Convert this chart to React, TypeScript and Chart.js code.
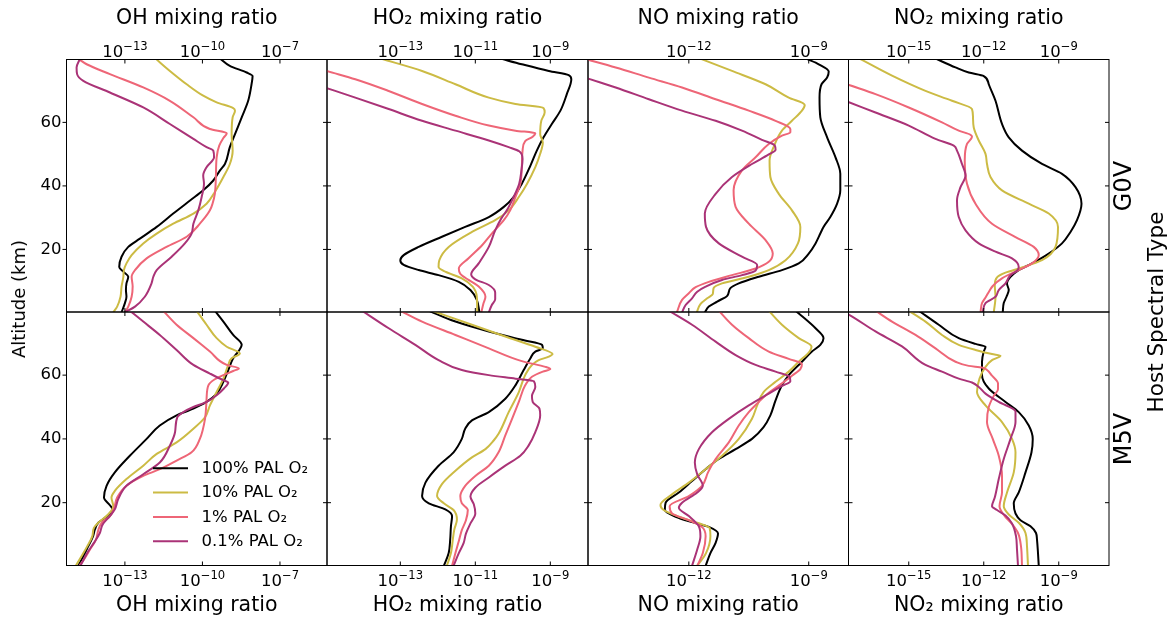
import React, { useEffect, useRef } from 'react';
import { Chart, registerables } from 'chart.js';

Chart.register(...registerables);
Chart.defaults.font.family = "'DejaVu Sans', sans-serif";
Chart.defaults.color = '#000';

// ---------- data: each profile is [altitude (km), log10(mixing ratio)] ----------
type Profile = [number, number][];

const SERIES_LABELS = ['100% PAL O₂', '10% PAL O₂', '1% PAL O₂', '0.1% PAL O₂'];
const SERIES_COLORS = ['#000000', '#CCBB44', '#EE6677', '#AA3377'];
const SPECIES_TITLES = ['OH mixing ratio', 'HO₂ mixing ratio', 'NO mixing ratio', 'NO₂ mixing ratio'];
const HOST_TYPES = ['G0V', 'M5V'];

const X_TICK_EXPONENTS = [[-13, -10, -7], [-13, -11, -9], [-12, -9], [-15, -12, -9]];
// tick labels as "base^exponent"
const X_TICK_LABELS = [
  ['10^−13', '10^−10', '10^−7'],
  ['10^−13', '10^−11', '10^−9'],
  ['10^−12', '10^−9'],
  ['10^−15', '10^−12', '10^−9'],
];
const X_LIMITS_LOG = [[-15.26, -5.18], [-14.955, -7.995], [-14.52, -8.005], [-17.41, -6.99]];
const ALT_TICKS = [20, 40, 60];
const ALT_LIMITS = [0.3, 79.8];

// G0V host
const OH_G0V_100: Profile = [[80,-9.3],[77.8,-8.94],[75.7,-8.29],[74.6,-8.06],[72.0,-8.10],[66.8,-8.23],[61.6,-8.48],[56.3,-8.74],[52.2,-8.94],[46.9,-9.13],[44.9,-9.32],[41.7,-9.58],[38.6,-9.97],[35.4,-10.48],[31.3,-11.13],[27.1,-11.77],[23.4,-12.42],[20.8,-12.87],[17.7,-13.13],[14.5,-13.22],[13.0,-13.06],[11.4,-12.87],[9.3,-12.94],[7.2,-12.96],[5.1,-12.94],[3.1,-13.0],[0.2,-13.13]];
const OH_G0V_10: Profile = [[80,-11.8],[76.2,-11.26],[72.0,-10.61],[68.4,-9.97],[66.3,-9.45],[64.5,-8.81],[63.7,-8.74],[61.6,-8.83],[56.3,-8.87],[51.1,-8.83],[46.9,-8.94],[42.8,-9.19],[38.1,-9.52],[34.4,-9.84],[31.3,-10.35],[28.1,-11.13],[25.0,-11.77],[21.9,-12.29],[18.2,-12.74],[15.6,-12.94],[13.5,-13.04],[11.4,-13.06],[8.3,-13.13],[5.1,-13.17],[2.0,-13.30],[0.2,-13.45]];
const OH_G0V_1: Profile = [[80,-14.8],[78.3,-14.48],[75.2,-13.58],[71.0,-12.29],[66.8,-11.26],[61.6,-10.35],[57.9,-9.71],[56.6,-9.06],[55.1,-9.19],[52.7,-9.35],[49.0,-9.45],[42.8,-9.48],[37.5,-9.52],[34.4,-9.61],[32.3,-9.71],[28.1,-10.10],[24.0,-10.61],[20.8,-11.39],[17.2,-12.16],[13.5,-12.61],[11.4,-12.74],[8.3,-12.70],[5.1,-12.74],[2.0,-12.87],[0.2,-13.0]];
const OH_G0V_01: Profile = [[80,-14.74],[77.3,-14.87],[75.2,-14.85],[73.1,-14.61],[69.4,-13.58],[64.7,-12.29],[59.5,-11.26],[54.8,-10.35],[52.2,-9.84],[51.1,-9.58],[49.0,-9.55],[45.9,-9.84],[43.3,-9.97],[40.7,-9.94],[36.5,-10.03],[32.3,-10.16],[28.1,-10.35],[25.0,-10.42],[21.9,-10.68],[17.7,-11.19],[13.5,-11.77],[11.4,-11.90],[9.3,-11.97],[5.1,-12.23],[2.0,-12.61],[0.2,-13.0]];

const HO2_G0V_100: Profile = [[80,-10.3],[78.3,-9.76],[76.2,-9.04],[74.9,-8.51],[73.6,-8.44],[68.9,-8.56],[63.7,-8.73],[59.5,-8.96],[55.3,-9.18],[51.1,-9.36],[46.4,-9.53],[40.7,-9.76],[36.5,-9.98],[33.4,-10.24],[30.2,-10.64],[27.1,-11.27],[24.0,-11.89],[20.8,-12.51],[18.2,-12.91],[16.6,-13.0],[15.1,-12.91],[13.5,-12.51],[11.9,-11.98],[9.8,-11.44],[7.2,-11.13],[4.1,-10.96],[0.2,-10.89]];
const HO2_G0V_10: Profile = [[80,-13.5],[76.2,-12.42],[72.0,-11.53],[67.8,-10.64],[65.8,-9.93],[64.5,-9.18],[63.2,-9.15],[60.5,-9.24],[56.3,-9.27],[53.7,-9.20],[50.1,-9.27],[45.9,-9.40],[40.7,-9.62],[36.5,-9.84],[32.3,-10.11],[29.2,-10.47],[25.5,-11.09],[20.8,-11.71],[16.6,-11.96],[14.5,-11.98],[13.0,-11.80],[10.9,-11.36],[8.3,-11.07],[5.1,-10.96],[0.2,-10.95]];
const HO2_G0V_1: Profile = [[80,-16.0],[76.2,-14.96],[73.6,-14.2],[69.9,-13.31],[65.8,-12.42],[62.1,-11.53],[59.0,-10.64],[57.4,-9.93],[56.6,-9.40],[55.5,-9.47],[54.1,-9.67],[51.1,-9.74],[45.9,-9.76],[40.7,-9.80],[36.5,-9.93],[32.3,-10.07],[29.2,-10.24],[25.0,-10.56],[21.3,-10.82],[17.2,-11.18],[14.0,-11.44],[12.3,-11.40],[10.4,-11.18],[8.3,-10.91],[5.1,-10.73],[3.1,-10.78],[0.2,-10.84]];
const HO2_G0V_01: Profile = [[80,-17.3],[70.8,-14.96],[67.8,-14.2],[64.2,-13.31],[60.5,-12.42],[57.4,-11.53],[54.3,-10.64],[52.2,-10.11],[50.9,-9.83],[48.5,-9.74],[44.9,-9.77],[40.7,-9.83],[36.5,-9.98],[32.3,-10.16],[29.7,-10.31],[26.0,-10.47],[20.8,-10.64],[15.6,-10.91],[12.2,-11.11],[10.6,-11.0],[8.8,-10.64],[6.4,-10.47],[4.3,-10.47],[2.5,-10.56],[0.2,-10.64]];

const NO_G0V_100: Profile = [[80,-9.05],[78.3,-8.75],[76.0,-8.5],[74.1,-8.54],[72.0,-8.68],[67.8,-8.73],[61.6,-8.71],[55.3,-8.54],[49.0,-8.33],[43.8,-8.21],[38.6,-8.21],[34.4,-8.29],[30.2,-8.46],[27.1,-8.63],[25.0,-8.71],[21.9,-8.83],[18.7,-9.0],[15.6,-9.25],[13.5,-9.67],[11.4,-10.25],[9.3,-10.75],[7.8,-10.96],[5.4,-11.04],[3.6,-11.29],[2.0,-11.5],[0.2,-11.6]];
const NO_G0V_10: Profile = [[80,-11.7],[76.2,-10.92],[72.0,-10.08],[67.8,-9.5],[65.5,-9.1],[63.7,-9.17],[60.5,-9.42],[57.4,-9.67],[52.2,-9.88],[48.0,-9.98],[42.8,-9.96],[37.5,-9.75],[32.3,-9.42],[27.1,-9.21],[21.9,-9.27],[16.6,-9.58],[13.5,-10.0],[11.4,-10.5],[9.3,-11.17],[7.8,-11.38],[6.0,-11.4],[4.6,-11.54],[2.8,-11.71],[0.2,-11.8]];
const NO_G0V_1: Profile = [[80,-14.6],[77.3,-13.83],[74.1,-13.0],[71.0,-12.17],[67.3,-11.33],[63.7,-10.5],[60.5,-9.83],[57.9,-9.46],[56.9,-9.46],[55.8,-9.67],[53.2,-10.0],[49.0,-10.33],[44.9,-10.67],[38.6,-10.88],[33.4,-10.83],[28.1,-10.5],[22.9,-10.08],[18.7,-9.9],[16.1,-10.0],[14.0,-10.33],[11.9,-10.92],[9.8,-11.5],[8.1,-11.83],[6.2,-12.0],[4.1,-12.17],[0.2,-12.3]];
const NO_G0V_01: Profile = [[80,-16.0],[73.9,-14.54],[71.0,-13.83],[67.3,-13.0],[63.7,-12.17],[60.5,-11.33],[57.4,-10.67],[54.5,-10.17],[52.7,-9.85],[51.4,-9.83],[49.9,-10.0],[46.9,-10.42],[42.8,-10.92],[37.5,-11.33],[31.3,-11.6],[27.1,-11.57],[21.9,-11.25],[17.7,-10.67],[15.1,-10.29],[13.3,-10.33],[11.9,-10.67],[10.4,-11.17],[8.3,-11.58],[6.7,-11.79],[4.6,-11.92],[2.5,-12.08],[0.2,-12.17]];

const NO2_G0V_100: Profile = [[80,-13.9],[77.3,-13.13],[75.7,-12.6],[74.6,-12.0],[72.0,-11.8],[66.8,-11.53],[59.5,-11.27],[55.3,-11.0],[51.1,-10.47],[46.9,-9.67],[43.8,-8.87],[39.6,-8.33],[34.4,-8.09],[29.2,-8.27],[25.5,-8.53],[21.9,-8.87],[18.7,-9.4],[15.6,-10.07],[13.5,-10.6],[11.4,-10.93],[9.3,-11.07],[7.2,-11.0],[5.1,-11.09],[3.1,-11.2],[0.2,-11.24]];
const NO2_G0V_10: Profile = [[80,-16.95],[74.7,-15.67],[69.9,-14.33],[66.8,-13.27],[64.2,-12.47],[61.6,-12.43],[58.4,-12.4],[54.3,-12.2],[50.1,-11.93],[46.9,-11.87],[42.8,-11.73],[38.6,-11.27],[34.4,-10.2],[31.3,-9.4],[27.1,-9.03],[20.8,-9.13],[16.6,-9.67],[14.3,-10.47],[12.7,-11.13],[11.2,-11.47],[8.8,-11.56],[5.1,-11.53],[0.2,-11.6]];
const NO2_G0V_1: Profile = [[80,-20.3],[72.0,-17.47],[68.9,-16.33],[64.7,-15.0],[60.0,-13.67],[57.4,-13.0],[56.1,-12.53],[55.5,-12.47],[53.2,-12.67],[48.0,-12.76],[40.7,-12.67],[34.4,-12.33],[28.1,-11.67],[23.9,-10.73],[20.8,-10.0],[18.2,-9.8],[15.6,-10.07],[13.5,-10.6],[10.9,-11.27],[8.5,-11.64],[7.0,-11.77],[5.1,-11.91],[3.1,-12.07],[0.2,-12.13]];
const NO2_G0V_01: Profile = [[80,-21.8],[66.6,-17.47],[63.1,-16.33],[59.0,-15.0],[54.8,-13.93],[52.7,-13.2],[51.1,-13.07],[46.9,-12.87],[43.3,-12.73],[39.6,-12.93],[35.5,-13.07],[30.2,-13.0],[26.0,-12.73],[21.9,-12.2],[19.3,-11.53],[17.2,-10.87],[14.5,-10.6],[13.3,-10.67],[11.9,-10.93],[9.3,-11.13],[7.2,-11.4],[5.1,-11.53],[3.1,-11.93],[0.2,-12.04]];

// M5V host
const OH_M5V_100: Profile = [[80.2,-9.52],[76.8,-9.19],[72.6,-8.81],[69.5,-8.48],[67.9,-8.57],[65.3,-8.81],[61.6,-9.0],[57.9,-9.19],[54.2,-9.45],[51.6,-9.84],[49.5,-10.35],[47.4,-11.0],[44.2,-11.65],[40.0,-12.16],[34.7,-12.81],[29.5,-13.39],[25.3,-13.71],[21.6,-13.81],[19.2,-13.58],[17.9,-13.48],[15.6,-13.71],[13.7,-14.03],[11.6,-14.16],[9.5,-14.23],[6.3,-14.42],[3.2,-14.61],[0.2,-14.81]];
const OH_M5V_10: Profile = [[80.2,-10.23],[75.8,-9.84],[71.6,-9.45],[68.9,-9.06],[66.8,-8.55],[65.3,-8.87],[63.2,-9.0],[58.9,-9.19],[54.7,-9.45],[50.5,-9.71],[46.8,-9.9],[43.2,-10.35],[38.9,-11.0],[35.3,-11.77],[31.6,-12.29],[27.4,-12.94],[23.7,-13.39],[21.6,-13.52],[18.9,-13.45],[16.3,-13.65],[13.7,-14.03],[12.1,-14.2],[9.5,-14.26],[6.3,-14.46],[3.2,-14.68],[0.2,-14.9]];
const OH_M5V_1: Profile = [[80.2,-11.52],[75.8,-11.0],[71.6,-10.35],[67.4,-9.71],[63.2,-9.06],[62.1,-8.59],[61.3,-8.81],[60.0,-9.19],[58.7,-9.52],[56.8,-9.77],[52.6,-9.84],[46.3,-9.9],[40.0,-10.1],[35.8,-10.42],[33.2,-11.0],[30.5,-11.65],[28.4,-12.29],[25.3,-12.94],[21.6,-13.3],[17.9,-13.43],[15.8,-13.58],[13.7,-13.9],[11.4,-14.03],[8.4,-14.12],[5.3,-14.35],[2.1,-14.59],[0.2,-14.77]];
const OH_M5V_01: Profile = [[80.2,-12.81],[76.8,-12.29],[72.6,-11.65],[67.9,-11.0],[63.2,-10.35],[60.5,-9.71],[58.4,-9.19],[57.7,-9.0],[55.8,-9.17],[53.7,-9.45],[51.6,-9.84],[50.0,-10.35],[48.4,-10.74],[46.8,-10.97],[42.1,-11.06],[37.9,-11.26],[32.6,-11.65],[28.9,-12.29],[25.3,-12.94],[21.1,-13.26],[17.9,-13.39],[15.8,-13.58],[13.2,-13.86],[10.5,-13.97],[7.4,-14.2],[4.2,-14.46],[0.2,-14.72]];

const HO2_M5V_100: Profile = [[80.2,-12.24],[76.8,-11.53],[73.7,-10.64],[71.1,-9.76],[69.5,-9.22],[68.4,-9.2],[67.4,-9.4],[65.3,-9.53],[61.6,-9.71],[56.8,-9.93],[52.6,-10.2],[48.4,-10.64],[45.8,-11.09],[43.2,-11.27],[40.0,-11.36],[35.8,-11.58],[31.6,-11.98],[26.3,-12.33],[22.1,-12.42],[19.8,-12.24],[17.9,-11.8],[15.8,-11.62],[12.6,-11.65],[8.4,-11.67],[4.2,-11.71],[0.2,-11.84]];
const HO2_M5V_10: Profile = [[80.2,-12.16],[75.8,-11.09],[72.1,-10.2],[68.9,-9.4],[66.6,-8.94],[65.8,-9.04],[64.7,-9.31],[63.2,-9.49],[60.0,-9.67],[54.7,-9.84],[48.4,-10.11],[41.6,-10.38],[39.5,-10.51],[36.8,-10.73],[34.2,-11.09],[30.0,-11.53],[25.8,-11.89],[22.1,-12.02],[19.8,-11.84],[17.7,-11.58],[14.7,-11.49],[11.6,-11.56],[8.4,-11.6],[4.2,-11.65],[0.2,-11.76]];
const HO2_M5V_1: Profile = [[80.2,-13.0],[76.8,-12.42],[72.6,-11.53],[68.4,-10.64],[64.4,-9.76],[62.6,-9.13],[61.9,-9.0],[61.1,-9.2],[59.5,-9.49],[56.8,-9.67],[51.6,-9.84],[46.3,-10.02],[41.1,-10.2],[35.8,-10.38],[31.6,-10.64],[28.4,-11.0],[25.3,-11.27],[22.1,-11.4],[19.8,-11.36],[17.7,-11.2],[14.5,-11.25],[11.4,-11.36],[8.4,-11.43],[4.2,-11.53],[0.2,-11.62]];
const HO2_M5V_01: Profile = [[80.2,-14.02],[74.7,-13.31],[69.5,-12.6],[64.7,-11.98],[61.6,-11.36],[60.0,-10.64],[58.9,-9.93],[58.1,-9.44],[56.3,-9.4],[53.5,-9.49],[51.6,-9.47],[49.5,-9.29],[47.4,-9.27],[42.1,-9.4],[37.9,-9.58],[34.7,-9.8],[31.6,-10.2],[27.9,-10.64],[24.7,-11.0],[21.9,-11.13],[19.5,-11.04],[16.6,-11.0],[13.5,-11.13],[10.3,-11.25],[7.4,-11.31],[4.2,-11.44],[0.2,-11.58]];

const NO_M5V_100: Profile = [[80.2,-9.33],[74.7,-8.83],[71.6,-8.63],[69.5,-8.71],[67.4,-8.92],[64.2,-9.17],[60.0,-9.5],[56.8,-9.67],[52.1,-9.83],[47.4,-9.96],[43.7,-10.13],[40.0,-10.42],[36.8,-10.83],[33.7,-11.25],[30.5,-11.58],[26.8,-11.92],[23.2,-12.25],[20.0,-12.58],[17.7,-12.6],[15.6,-12.33],[13.9,-11.92],[12.4,-11.5],[10.3,-11.27],[7.4,-11.33],[4.2,-11.46],[0.2,-11.58]];
const NO_M5V_10: Profile = [[80.2,-10.0],[75.8,-9.67],[71.6,-9.25],[68.9,-8.93],[67.4,-8.98],[64.2,-9.25],[61.1,-9.5],[57.9,-9.83],[54.7,-10.13],[50.5,-10.29],[46.3,-10.42],[40.0,-10.75],[34.7,-11.17],[30.5,-11.58],[26.3,-12.0],[22.6,-12.42],[19.3,-12.71],[17.7,-12.63],[15.6,-12.25],[13.7,-11.79],[12.1,-11.48],[9.5,-11.46],[4.2,-11.57],[0.2,-11.79]];
const NO_M5V_1: Profile = [[80.2,-11.25],[75.8,-10.92],[71.6,-10.5],[67.4,-10.0],[65.1,-9.5],[63.5,-9.17],[61.9,-9.21],[59.8,-9.42],[57.4,-9.67],[54.5,-10.0],[51.6,-10.25],[48.4,-10.5],[44.2,-10.75],[38.9,-11.0],[33.7,-11.33],[29.5,-11.52],[25.3,-11.67],[22.1,-12.0],[18.9,-12.48],[16.6,-12.42],[14.5,-12.0],[12.4,-11.67],[9.5,-11.58],[4.2,-11.65],[0.2,-11.79]];
const NO_M5V_01: Profile = [[80.2,-12.5],[75.8,-11.92],[70.5,-11.33],[66.3,-10.83],[63.2,-10.33],[61.1,-9.83],[59.5,-9.48],[58.1,-9.46],[56.6,-9.67],[54.2,-10.0],[50.5,-10.5],[46.3,-11.0],[42.1,-11.42],[36.8,-11.75],[32.6,-11.85],[28.9,-11.79],[25.3,-11.65],[23.2,-11.79],[20.0,-12.17],[18.4,-12.25],[15.8,-12.0],[12.6,-11.75],[9.5,-11.71],[5.3,-11.79],[0.2,-11.92]];

const NO2_M5V_100: Profile = [[80.2,-14.6],[75.8,-13.8],[71.6,-13.0],[69.8,-12.33],[68.9,-11.93],[67.4,-12.0],[64.2,-12.07],[60.0,-12.07],[55.8,-11.8],[51.6,-11.13],[48.4,-10.6],[44.2,-10.2],[40.0,-10.04],[35.8,-10.09],[29.5,-10.33],[23.2,-10.6],[19.8,-10.8],[16.6,-10.73],[14.5,-10.53],[12.6,-10.13],[10.5,-9.91],[8.4,-9.87],[4.2,-9.83],[0.2,-9.8]];
const NO2_M5V_10: Profile = [[80.2,-15.0],[76.8,-14.33],[72.6,-13.67],[69.5,-13.0],[67.9,-12.33],[66.6,-11.67],[66.1,-11.33],[64.7,-11.67],[62.6,-11.93],[58.9,-12.17],[54.7,-12.27],[50.5,-11.93],[45.3,-11.27],[40.0,-10.87],[35.8,-10.73],[29.5,-10.8],[23.2,-11.07],[18.9,-11.2],[16.3,-11.0],[13.7,-10.6],[10.5,-10.33],[6.3,-10.27],[0.2,-10.23]];
const NO2_M5V_1: Profile = [[80.2,-16.33],[76.8,-15.67],[72.6,-14.73],[68.4,-13.93],[64.2,-13.13],[62.9,-12.6],[62.4,-12.07],[61.6,-11.87],[60.0,-11.69],[57.4,-11.43],[55.6,-11.43],[53.5,-11.6],[50.0,-11.8],[45.3,-11.87],[40.0,-11.64],[34.7,-11.4],[28.4,-11.27],[23.2,-11.27],[18.9,-11.37],[15.8,-11.16],[13.5,-10.89],[10.5,-10.63],[6.3,-10.51],[0.2,-10.47]];
const NO2_M5V_01: Profile = [[80.2,-17.7],[79.0,-17.4],[73.7,-16.33],[69.0,-15.27],[63.2,-14.33],[61.1,-13.67],[58.9,-13.0],[57.7,-12.47],[56.3,-12.2],[54.2,-11.93],[51.6,-11.4],[48.6,-10.73],[45.3,-10.73],[40.0,-10.93],[33.7,-11.2],[27.4,-11.4],[21.6,-11.56],[18.9,-11.67],[17.7,-11.47],[16.0,-11.13],[13.5,-10.87],[9.5,-10.71],[5.3,-10.67],[0.2,-10.63]];

const PROFILES: Profile[][][] = [
  [
    [OH_G0V_100, OH_G0V_10, OH_G0V_1, OH_G0V_01],
    [HO2_G0V_100, HO2_G0V_10, HO2_G0V_1, HO2_G0V_01],
    [NO_G0V_100, NO_G0V_10, NO_G0V_1, NO_G0V_01],
    [NO2_G0V_100, NO2_G0V_10, NO2_G0V_1, NO2_G0V_01],
  ],
  [
    [OH_M5V_100, OH_M5V_10, OH_M5V_1, OH_M5V_01],
    [HO2_M5V_100, HO2_M5V_10, HO2_M5V_1, HO2_M5V_01],
    [NO_M5V_100, NO_M5V_10, NO_M5V_1, NO_M5V_01],
    [NO2_M5V_100, NO2_M5V_10, NO2_M5V_1, NO2_M5V_01],
  ],
];

// ---------- layout ----------
const W = 1174;
const H = 617;
const COL_EDGES = [66.5, 327, 588, 848.5, 1109];
const ROW_EDGES = [59.5, 312, 565.5];
const FONT = "'DejaVu Sans', sans-serif";
const TICK_LEN = 4;
const TICK_FONT = 16.5;
const SUP_FONT = 11.6;

const framePlugin = {
  id: 'frame',
  afterDatasetsDraw(chart: any, _args: any, opts: any) {
    const { ctx, chartArea: a, scales } = chart;
    ctx.save();
    ctx.strokeStyle = '#000';
    ctx.lineWidth = 1;
    ctx.strokeRect(a.left, a.top, a.right - a.left, a.bottom - a.top);
    const seg = (x1: number, y1: number, x2: number, y2: number) => {
      ctx.beginPath();
      ctx.moveTo(x1, y1);
      ctx.lineTo(x2, y2);
      ctx.stroke();
    };
    const exps = opts.exps as number[];
    const labels = opts.labels as string[];
    exps.forEach((e, k) => {
      const px = scales.x.getPixelForValue(Math.pow(10, e));
      seg(px, a.top, px, a.top + TICK_LEN);
      seg(px, a.bottom, px, a.bottom - TICK_LEN);
      // tick label: base with raised exponent (mathtext style)
      const [base, sup] = labels[k].split('^');
      ctx.fillStyle = '#000';
      ctx.textBaseline = 'alphabetic';
      ctx.textAlign = 'left';
      ctx.font = `${TICK_FONT}px ${FONT}`;
      const wb = ctx.measureText(base).width;
      ctx.font = `${SUP_FONT}px ${FONT}`;
      const ws = ctx.measureText(sup).width;
      const start = px - (wb + ws) / 2;
      const baseline = opts.top ? 56.8 : 586.2;
      ctx.font = `${TICK_FONT}px ${FONT}`;
      ctx.fillText(base, start, baseline);
      ctx.font = `${SUP_FONT}px ${FONT}`;
      ctx.fillText(sup, start + wb, baseline - 6.8);
    });
    for (const v of ALT_TICKS) {
      const py = scales.y.getPixelForValue(v);
      if (opts.col === 0) seg(a.left - TICK_LEN, py, a.left, py);
      else seg(a.left, py, a.left + TICK_LEN, py);
      seg(a.right - TICK_LEN, py, a.right, py);
    }
    ctx.restore();
  },
};

const legendPlugin = {
  id: 'innerLegend',
  afterDatasetsDraw(chart: any, _args: any, opts: any) {
    if (!opts || !opts.show) return;
    const { ctx } = chart;
    ctx.save();
    ctx.font = `16.5px ${FONT}`;
    ctx.textBaseline = 'middle';
    ctx.textAlign = 'left';
    chart.data.datasets.forEach((ds: any, i: number) => {
      const y = 468.3 + i * 24.3;
      ctx.strokeStyle = ds.borderColor;
      ctx.lineWidth = 2;
      ctx.beginPath();
      ctx.moveTo(153, y);
      ctx.lineTo(188, y);
      ctx.stroke();
      ctx.fillStyle = '#000';
      ctx.fillText(ds.label, 201.5, y + 0.5);
    });
    ctx.restore();
  },
};

function makeConfig(r: number, c: number): any {
  const x0 = COL_EDGES[c];
  const x1 = COL_EDGES[c + 1];
  const y0 = ROW_EDGES[r];
  const y1 = ROW_EDGES[r + 1];
  const top = r === 0;
  const exps = X_TICK_EXPONENTS[c];
  const labels = X_TICK_LABELS[c];
  const [lmin, lmax] = X_LIMITS_LOG[c];
  return {
    type: 'line',
    data: {
      datasets: PROFILES[r][c].map((prof, i) => ({
        label: SERIES_LABELS[i],
        data: prof.map(([alt, lg]) => ({ x: Math.pow(10, lg), y: alt })),
        borderColor: SERIES_COLORS[i],
        backgroundColor: SERIES_COLORS[i],
        borderWidth: 2,
        pointRadius: 0,
        pointHoverRadius: 0,
        fill: false,
        cubicInterpolationMode: 'monotone',
        order: 3 - i,
      })),
    },
    plugins: [framePlugin, legendPlugin],
    options: {
      responsive: false,
      animation: false,
      devicePixelRatio: 1,
      indexAxis: 'y',
      events: [],
      layout: {
        padding: {
          left: c === 0 ? 0 : x0,
          right: W - x1,
          top: top ? 0 : y0,
          bottom: top ? H - y1 : 0,
        },
      },
      plugins: {
        legend: { display: false },
        tooltip: { enabled: false },
        frame: { col: c, exps, labels, top },
        innerLegend: { show: r === 1 && c === 0 },
      },
      scales: {
        x: {
          type: 'logarithmic',
          position: top ? 'top' : 'bottom',
          min: Math.pow(10, lmin),
          max: Math.pow(10, lmax),
          afterBuildTicks: (s: any) => {
            s.ticks = exps.map((e) => ({ value: Math.pow(10, e) }));
          },
          afterFit: (s: any) => {
            s.height = top ? y0 : H - y1;
          },
          ticks: { display: false },
          grid: { display: false, drawTicks: false },
          border: { display: false },
          title: {
            display: true,
            text: SPECIES_TITLES[c],
            color: '#000',
            font: { family: FONT, size: 20.5, lineHeight: 1 },
            padding: top ? { top: 8.85, bottom: 0 } : { top: 0, bottom: 1.25 },
          },
        },
        y: {
          type: 'linear',
          position: 'left',
          display: c === 0,
          min: ALT_LIMITS[0],
          max: ALT_LIMITS[1],
          afterBuildTicks: (s: any) => {
            s.ticks = ALT_TICKS.map((v) => ({ value: v }));
          },
          afterFit: (s: any) => {
            s.width = c === 0 ? x0 : 0;
          },
          ticks: {
            padding: 5,
            color: '#000',
            font: { family: FONT, size: TICK_FONT, lineHeight: 1 },
            callback: (v: number) => String(v),
          },
          grid: { display: false, drawTicks: false },
          border: { display: false },
        },
      },
    },
  };
}

const rotated = (text: string, cx: number, cy: number, size: number) => (
  <div
    style={{
      position: 'absolute',
      left: cx,
      top: cy,
      transform: 'translate(-50%, -50%) rotate(-90deg)',
      whiteSpace: 'nowrap',
      fontFamily: FONT,
      fontSize: size,
      lineHeight: 1,
      color: '#000',
    }}
  >
    {text}
  </div>
);

export default function App() {
  const refs = useRef<(HTMLCanvasElement | null)[]>([]);
  useEffect(() => {
    const charts: Chart[] = [];
    for (let r = 0; r < 2; r++) {
      for (let c = 0; c < 4; c++) {
        const cv = refs.current[r * 4 + c];
        if (cv) charts.push(new Chart(cv, makeConfig(r, c)));
      }
    }
    return () => charts.forEach((ch) => ch.destroy());
  }, []);

  const cells = [];
  for (let i = 0; i < 8; i++) {
    cells.push(
      <canvas
        key={i}
        ref={(el) => {
          refs.current[i] = el;
        }}
        width={W}
        height={H}
        style={{ position: 'absolute', left: 0, top: 0, width: W, height: H }}
      />
    );
  }

  return (
    <div style={{ position: 'fixed', left: 0, top: 0, width: W, height: H, background: '#fff', overflow: 'hidden' }}>
      {cells}
      {rotated('Altitude (km)', 19, 299, 18)}
      {rotated(HOST_TYPES[0], 1123, (ROW_EDGES[0] + ROW_EDGES[1]) / 2, 24)}
      {rotated(HOST_TYPES[1], 1123, (ROW_EDGES[1] + ROW_EDGES[2]) / 2, 24)}
      {rotated('Host Spectral Type', 1156, 312, 21.5)}
    </div>
  );
}
